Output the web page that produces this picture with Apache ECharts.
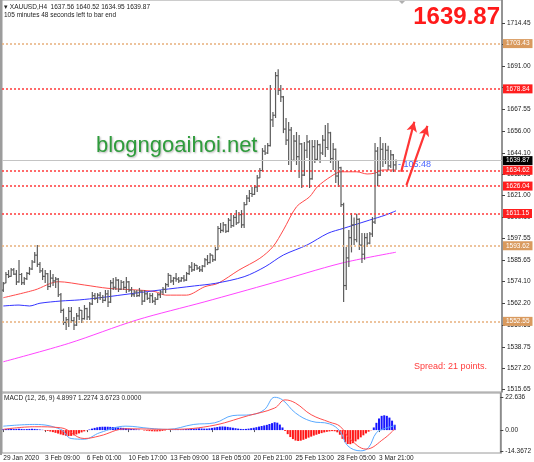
<!DOCTYPE html>
<html>
<head>
<meta charset="utf-8">
<title>XAUUSD H4</title>
<script src="https://cdn.jsdelivr.net/npm/echarts@6/dist/echarts.min.js"></script>
<style>
  html, body { margin: 0; padding: 0; background: #fff; }
  #chart { width: 534px; height: 462px; }
</style>
</head>
<body>
<div id="chart"></div>
<script>
// time slots (bars + empty right margin like MT4's chart shift)
const slotCount = 191;
const labelStep = 16;
const dateLabels = ['29 Jan 2020', '3 Feb 09:00', '6 Feb 01:00', '10 Feb 17:00', '13 Feb 09:00',
  '18 Feb 05:00', '20 Feb 21:00', '25 Feb 13:00', '28 Feb 05:00', '3 Mar 21:00'];

// H4 bars
const opens = [
  1569.5,1573.5,1578.0,1577.0,1580.5,1578.2,1574.0,1578.0,1573.5,1575.8,
  1578.6,1581.0,1584.8,1588.5,1583.5,1580.0,1577.0,1578.5,1571.5,1576.0,
  1574.5,1575.5,1567.0,1558.5,1552.0,1553.5,1558.0,1553.0,1550.5,1555.5,
  1558.5,1554.0,1559.5,1555.0,1562.0,1566.5,1565.0,1566.8,1565.5,1564.0,
  1567.5,1563.0,1573.5,1571.0,1575.0,1570.0,1573.8,1571.0,1574.0,1569.5,
  1567.0,1568.5,1566.5,1569.0,1563.5,1567.5,1565.0,1566.5,1563.5,1564.5,
  1567.0,1568.5,1570.0,1572.5,1577.5,1574.5,1576.0,1575.5,1574.5,1576.0,
  1575.0,1578.5,1582.0,1580.5,1583.0,1581.5,1580.5,1582.5,1586.0,1584.5,
  1588.5,1586.0,1591.5,1603.0,1602.0,1605.0,1601.5,1607.5,1604.5,1609.0,
  1606.0,1610.5,1605.0,1616.0,1619.5,1622.0,1621.5,1625.5,1630.5,1634.5,
  1645.0,1644.0,1648.0,1662.0,1664.5,1686.0,1678.0,1674.5,1657.0,1651.0,
  1656.5,1640.0,1650.5,1642.0,1649.0,1632.0,1645.5,1650.0,1630.0,1647.5,
  1640.5,1648.5,1644.0,1651.0,1647.0,1655.0,1641.0,1646.0,1631.5,1636.0,
  1616.0,1572.0,1587.0,1598.0,1605.0,1597.0,1608.0,1594.0,1589.0,1598.0,
  1595.0,1600.0,1606.5,1645.0,1632.0,1646.0,1640.0,1645.5,1637.0,1643.0,1637.56
];
const highs = [
  1573.9,1579.4,1580.4,1581.5,1581.5,1580.4,1585.9,1578.8,1576.6,1579.4,
  1582.1,1585.9,1590.2,1594.0,1584.8,1581.5,1580.4,1578.8,1580.4,1578.3,
  1576.6,1576.1,1567.9,1559.5,1554.9,1560.3,1560.3,1554.9,1557.1,1560.3,
  1558.7,1561.4,1560.0,1563.0,1568.5,1567.9,1567.9,1568.5,1566.9,1569.6,
  1569.6,1575.0,1576.1,1576.6,1575.5,1575.0,1574.5,1576.6,1574.5,1571.2,
  1569.6,1569.6,1570.7,1569.5,1569.6,1568.5,1567.9,1567.9,1565.8,1567.9,
  1569.6,1571.2,1573.4,1578.8,1577.7,1576.6,1578.8,1576.6,1576.6,1577.7,
  1579.4,1583.2,1584.8,1584.2,1583.2,1582.6,1583.2,1587.0,1588.6,1589.7,
  1588.6,1592.9,1604.3,1606.0,1606.5,1605.5,1608.7,1611.4,1610.3,1613.0,
  1611.9,1613.0,1617.4,1621.2,1623.9,1625.5,1626.6,1632.0,1635.8,1646.7,
  1648.3,1649.4,1680.9,1666.3,1688.0,1689.5,1680.9,1675.0,1663.0,1660.8,
  1658.1,1653.8,1655.4,1653.8,1649.5,1650.0,1653.8,1651.0,1651.0,1651.0,
  1651.0,1649.0,1653.8,1659.2,1660.3,1655.5,1649.4,1646.5,1640.2,1636.5,
  1617.0,1592.9,1602.2,1611.4,1609.0,1611.0,1608.5,1600.5,1600.5,1600.5,
  1601.1,1609.2,1649.4,1647.3,1652.7,1649.4,1649.4,1648.0,1645.6,1643.5,1640.52
];
const lows = [
  1568.5,1573.2,1576.1,1576.8,1577.7,1572.3,1573.5,1572.3,1572.3,1575.0,
  1577.7,1580.4,1584.2,1582.1,1578.8,1575.0,1573.4,1569.6,1571.0,1571.8,
  1570.7,1565.8,1557.1,1550.6,1547.8,1549.5,1551.6,1547.8,1550.0,1553.3,
  1551.6,1553.5,1553.3,1553.3,1561.5,1564.1,1562.5,1564.1,1562.5,1563.5,
  1560.3,1562.5,1569.6,1569.6,1568.5,1569.6,1569.6,1567.9,1568.5,1565.8,
  1565.8,1565.8,1566.0,1561.4,1563.0,1564.1,1562.5,1562.5,1561.4,1564.1,
  1565.2,1567.0,1567.9,1571.2,1573.4,1572.3,1574.0,1573.4,1574.0,1574.0,
  1574.5,1577.7,1579.4,1580.0,1580.4,1579.4,1579.4,1582.0,1583.2,1584.0,
  1584.8,1585.5,1591.3,1600.5,1601.0,1600.5,1601.0,1603.3,1604.0,1604.9,
  1606.0,1603.3,1603.3,1615.7,1617.4,1620.1,1621.2,1622.8,1630.4,1634.0,
  1642.9,1643.5,1647.5,1658.1,1663.0,1675.5,1671.7,1654.8,1648.3,1637.5,
  1633.7,1639.5,1637.5,1630.4,1625.0,1631.5,1641.3,1625.0,1629.5,1638.6,
  1640.2,1638.6,1642.9,1641.8,1645.6,1638.6,1634.8,1627.7,1625.5,1614.7,
  1563.0,1569.6,1582.1,1590.0,1594.0,1595.5,1591.3,1584.2,1586.0,1592.9,
  1594.5,1598.4,1605.5,1626.0,1631.5,1636.4,1638.0,1634.8,1635.8,1633.7,1634.95
];
const closes = [
  1573.0,1578.0,1577.0,1580.5,1578.2,1574.0,1578.0,1573.5,1575.8,1578.6,
  1581.0,1584.8,1588.5,1583.5,1580.0,1577.0,1578.5,1571.5,1576.0,1574.5,
  1575.5,1567.0,1558.5,1552.0,1553.5,1558.0,1553.0,1550.5,1555.5,1558.5,
  1554.0,1559.5,1555.0,1562.0,1566.5,1565.0,1566.8,1565.5,1564.0,1567.5,
  1563.0,1573.5,1571.0,1575.0,1570.0,1573.8,1571.0,1574.0,1569.5,1567.0,
  1568.5,1566.5,1569.0,1563.5,1567.5,1565.0,1566.5,1563.5,1564.5,1567.0,
  1568.5,1570.0,1572.5,1577.5,1574.5,1576.0,1575.5,1574.5,1576.0,1575.0,
  1578.5,1582.0,1580.5,1583.0,1581.5,1580.5,1582.5,1586.0,1584.5,1588.5,
  1586.0,1591.5,1603.0,1602.0,1605.0,1601.5,1607.5,1604.5,1609.0,1606.0,
  1610.5,1605.0,1616.0,1619.5,1622.0,1621.5,1625.5,1630.5,1634.5,1645.0,
  1644.0,1648.0,1662.0,1664.5,1686.0,1678.0,1674.5,1657.0,1651.0,1656.5,
  1640.0,1650.5,1642.0,1649.0,1632.0,1645.5,1650.0,1630.0,1647.5,1640.5,
  1648.5,1644.0,1651.0,1647.0,1655.0,1641.0,1646.0,1631.5,1636.0,1616.0,
  1572.0,1587.0,1598.0,1605.0,1597.0,1608.0,1594.0,1589.0,1598.0,1595.0,
  1600.0,1606.5,1645.0,1632.0,1646.0,1640.0,1645.5,1637.0,1643.0,1637.56,1639.87
];

// moving averages, [bar index, price] read at points along each curve
const maRed = [[0,1565.4],[12,1569.6],[21,1574.1],[31,1572.3],[40,1570.5],[51,1569.6],[58,1568.7],
  [62,1566.8],[70,1566.8],[77,1571.4],[82,1573.2],[90,1580.4],[98,1586.8],[103,1593.1],[107,1602.2],
  [112,1614.8],[117,1620.2],[120,1625.7],[125,1631.1],[129,1633.8],[135,1633.8],[139,1632.6],
  [142,1633.1],[145,1634.8],[150,1634.8]];
const maBlue = [[0,1560.9],[6,1561.4],[10,1560.9],[14,1562.4],[22,1563.6],[29,1564.2],[37,1565.4],
  [50,1567.8],[60,1569.6],[73,1571.8],[81,1573.2],[92,1576.8],[100,1582.2],[107,1588.6],[116,1594.0],
  [124,1600.4],[130,1603.1],[134,1604.9],[140,1607.6],[146,1610.3],[150,1612.6]];
const maMagenta = [[0,1530.6],[25,1540.6],[51,1553.3],[77,1563.2],[103,1573.5],[129,1584.1],[150,1590.1]];

// MACD (12,26,9) sub-window
const macdHist = [
  0.6,0.8,0.9,0.8,0.7,0.8,0.9,0.8,0.6,0.7,
  0.8,0.9,0.8,0.6,0.4,0.2,-0.3,-0.6,-1.0,-1.4,
  -1.9,-2.4,-3.0,-3.5,-3.9,-4.1,-4.0,-3.6,-3.0,-2.3,
  -1.6,-0.9,-0.2,0.4,1.0,1.5,1.9,2.2,2.3,2.3,
  2.3,2.2,2.1,2.0,1.8,1.6,1.5,1.3,1.1,0.9,
  0.7,0.5,0.3,0.0,-0.3,-0.5,-0.7,-0.8,-0.9,-0.9,
  -0.8,-0.6,-0.3,0.0,0.2,0.3,0.4,0.5,0.5,0.6,
  0.7,0.8,0.9,1.0,1.1,1.2,1.1,1.0,1.0,1.2,
  1.5,1.8,2.1,2.4,2.5,2.4,2.2,1.9,1.6,1.3,
  1.0,0.8,0.7,0.8,1.0,1.3,1.6,2.0,2.4,2.8,
  3.2,3.6,4.2,4.8,5.4,5.1,3.8,1.8,-0.6,-2.8,
  -4.8,-6.2,-7.2,-7.5,-7.3,-6.7,-6.0,-5.2,-4.5,-3.8,
  -3.2,-2.6,-2.1,-1.6,-1.2,-0.9,-0.7,-0.8,-1.5,-3.2,
  -6.0,-8.3,-9.6,-9.7,-9.0,-7.8,-6.4,-5.0,-3.6,-2.3,
  -1.1,-0.2,1.8,5.0,8.0,9.8,10.2,9.8,8.6,6.5,3.67
];
const macdMain = [[0,2.7],[12,3.9],[22,0.5],[26,-5.8],[31,-6.3],[37,-1.8],[47,2.7],[56,1.2],[63,0.5],
  [73,3.9],[81,5.0],[88,10.0],[95,10.6],[100,14.0],[104,22.6],[107,20.8],[112,11.8],[118,6.1],
  [125,4.3],[129,-0.7],[132,-10.8],[137,-14.3],[140,-12.0],[143,-1.8],[146,0.9],[150,3.0]];
const macdSignal = [[0,0.5],[12,2.3],[22,1.6],[31,-5.8],[37,-4.0],[47,0.9],[63,0.5],[79,2.7],
  [94,10.0],[104,15.2],[108,20.8],[112,18.6],[118,10.6],[125,5.5],[129,2.7],[133,-6.3],[139,-13.1],
  [146,-5.8],[150,0.8]];

// axis ticks
const priceTicks = [1714.45, 1702.90, 1691.00, 1679.45, 1667.55, 1656.00, 1644.10, 1632.55, 1621.00,
  1609.10, 1597.55, 1585.65, 1574.10, 1562.20, 1550.65, 1538.75, 1527.20, 1515.65];
const macdTicks = [22.636, 0, -14.3672];
const macdTickLabels = ['22.636', '0.00', '-14.3672'];

// horizontal levels and arrows drawn on the chart
const redLevels = [1678.84, 1634.62, 1626.04, 1611.15];
const tanLevels = [1703.43, 1593.62, 1552.55];
const lastPrice = 1639.87;
const arrows = [[[152, 1633.8], [157, 1661.0]], [[154, 1626.6], [162, 1658.7]]];

const FONT = 'Liberation Sans';
const axisText = { color: '#222', fontSize: 6.5, fontFamily: FONT };
const slots = Array.from({ length: slotCount }, (_, i) => String(i));
const hasDateLabel = (i) => i % labelStep === 0 && i / labelStep < dateLabels.length;

function renderBar(params, api) {
  const i = api.value(0);
  const o = api.coord([i, api.value(1)]);
  const h = api.coord([i, api.value(2)]);
  const l = api.coord([i, api.value(3)]);
  const c = api.coord([i, api.value(4)]);
  const x = o[0];
  const st = { stroke: '#5c5c5c', lineWidth: 1.2 };
  return {
    type: 'group',
    children: [
      { type: 'line', shape: { x1: x, y1: h[1], x2: x, y2: l[1] }, style: st },
      { type: 'line', shape: { x1: x - 1.4, y1: o[1], x2: x, y2: o[1] }, style: st },
      { type: 'line', shape: { x1: x, y1: c[1], x2: x + 1.4, y2: c[1] }, style: st }
    ]
  };
}

function levelMarks(values, lineColor, dash, width, boxColor) {
  return {
    silent: true, symbol: ['none', 'none'],
    lineStyle: { color: lineColor, type: dash, width: width, opacity: 1 },
    label: {
      show: true, position: 'end', distance: 1, color: '#fff', fontSize: 6.5, fontFamily: FONT,
      padding: [1, 3, 1, 3], backgroundColor: boxColor, formatter: (p) => p.value.toFixed(2)
    },
    emphasis: { disabled: true },
    data: values.map((v) => ({ yAxis: v }))
  };
}

const chart = echarts.init(document.getElementById('chart'));
chart.setOption({
  animation: false,
  backgroundColor: '#fff',
  grid: [
    { left: 2, right: 32, top: 0, bottom: 70, show: true, borderColor: '#9a9a9a', borderWidth: 1 },
    { left: 2, right: 32, top: 393, bottom: 8, show: true, borderColor: '#9a9a9a', borderWidth: 1 }
  ],
  xAxis: [
    { type: 'category', gridIndex: 0, data: slots, axisLine: { show: false },
      axisTick: { show: false }, axisLabel: { show: false } },
    { type: 'category', gridIndex: 1, data: slots, axisLine: { show: false },
      axisTick: { show: true, alignWithLabel: true, interval: hasDateLabel, length: 2, lineStyle: { color: '#555' } },
      axisLabel: Object.assign({ interval: hasDateLabel, align: 'left', margin: 2,
        formatter: (v, i) => dateLabels[i / labelStep] }, axisText) }
  ],
  yAxis: [
    { type: 'value', gridIndex: 0, position: 'right', min: 1514.18, max: 1727.11, splitLine: { show: false },
      axisLine: { show: true, lineStyle: { color: '#808080', width: 1.5 } },
      axisTick: { show: true, customValues: priceTicks, length: 3, lineStyle: { color: '#444' } },
      axisLabel: Object.assign({ customValues: priceTicks, margin: 5, formatter: (v) => v.toFixed(2) }, axisText) },
    { type: 'value', gridIndex: 1, position: 'right', min: -15.79, max: 25.55, splitLine: { show: false },
      axisLine: { show: true, lineStyle: { color: '#808080', width: 1.5 } },
      axisTick: { show: true, customValues: macdTicks, length: 3, lineStyle: { color: '#444' } },
      axisLabel: Object.assign({ customValues: macdTicks, margin: 5,
        formatter: (v) => macdTickLabels[macdTicks.indexOf(v)] }, axisText) }
  ],
  series: [
    {
      name: 'MA red', type: 'line', xAxisIndex: 0, yAxisIndex: 0, data: maRed, smooth: 0.3,
      showSymbol: false, silent: true, z: 2, lineStyle: { color: '#ff4a4a', width: 1 },
      markLine: levelMarks(redLevels, '#ff3a3a', [2, 2], 1.5, '#ff1e1e')
    },
    {
      name: 'MA blue', type: 'line', xAxisIndex: 0, yAxisIndex: 0, data: maBlue, smooth: 0.3,
      showSymbol: false, silent: true, z: 2, lineStyle: { color: '#3535ff', width: 1 },
      markLine: levelMarks(tanLevels, '#e8b07c', [2, 2], 1.5, '#d99a5e')
    },
    {
      name: 'MA magenta', type: 'line', xAxisIndex: 0, yAxisIndex: 0, data: maMagenta, smooth: 0.3,
      showSymbol: false, silent: true, z: 2, lineStyle: { color: '#ff45ff', width: 1 },
      markLine: levelMarks([lastPrice], '#c4c4c4', 'solid', 1, '#000')
    },
    {
      name: 'XAUUSD', type: 'custom', xAxisIndex: 0, yAxisIndex: 0, z: 3, silent: true,
      renderItem: renderBar, encode: { x: 0, y: [1, 2, 3, 4] },
      data: opens.map((o, i) => [i, o, highs[i], lows[i], closes[i]])
    },
    {
      name: 'Arrows', type: 'line', xAxisIndex: 0, yAxisIndex: 0, z: 4, silent: true, showSymbol: false,
      data: [[151, lastPrice]], lineStyle: { width: 0 },
      markLine: {
        silent: true, symbol: ['none', 'arrow'], symbolSize: [8, 10], label: { show: false },
        lineStyle: { color: '#ff3535', width: 2.2, type: 'solid' },
        emphasis: { disabled: true },
        data: arrows.map((a) => [{ coord: a[0] }, { coord: a[1] }])
      }
    },
    {
      name: 'OsMA', type: 'bar', xAxisIndex: 1, yAxisIndex: 1, barWidth: 2, silent: true,
      data: macdHist.map((v) => ({ value: v, itemStyle: { color: v >= 0 ? '#1616ff' : '#ff1616' } }))
    },
    {
      name: 'MACD', type: 'line', xAxisIndex: 1, yAxisIndex: 1, data: macdMain, smooth: 0.4,
      showSymbol: false, silent: true, z: 3, lineStyle: { color: '#5aaaff', width: 1 }
    },
    {
      name: 'Signal', type: 'line', xAxisIndex: 1, yAxisIndex: 1, data: macdSignal, smooth: 0.4,
      showSymbol: false, silent: true, z: 3, lineStyle: { color: '#ff4d4d', width: 1 }
    }
  ],
  graphic: [
    { type: 'rect', left: 0, top: 0, shape: { width: 2, height: 455 }, style: { fill: '#9c9c9c' }, silent: true },
    { type: 'text', x: 4, y: 7, silent: true,
      style: { text: '▾ XAUUSD,H4  1637.56 1640.52 1634.95 1639.87', fill: '#222',
        font: '6.5px "Liberation Sans"', textVerticalAlign: 'middle' } },
    { type: 'text', x: 4, y: 15.5, silent: true,
      style: { text: '105 minutes 48 seconds left to bar end', fill: '#222',
        font: '6.5px "Liberation Sans"', textVerticalAlign: 'middle' } },
    { type: 'text', x: 500, y: 17, silent: true,
      style: { text: '1639.87', fill: '#ff1a1a', font: 'bold 24px "Liberation Sans"',
        textAlign: 'right', textVerticalAlign: 'middle' } },
    { type: 'text', x: 96, y: 146, silent: true,
      style: { text: 'blogngoaihoi.net', fill: '#2f9c3c', font: '22px "Liberation Sans"',
        textVerticalAlign: 'middle', textShadowColor: 'rgba(0,0,0,0.3)', textShadowBlur: 2,
        textShadowOffsetX: 1, textShadowOffsetY: 1 } },
    { type: 'text', x: 398, y: 164.5, silent: true,
      style: { text: '- 105:48', fill: '#4a66ff', font: '9px "Liberation Sans"', textVerticalAlign: 'middle' } },
    { type: 'text', x: 414, y: 367, silent: true,
      style: { text: 'Spread: 21 points.', fill: '#ff3b3b', font: '9px "Liberation Sans"', textVerticalAlign: 'middle' } },
    { type: 'text', x: 4, y: 398.5, silent: true,
      style: { text: 'MACD (12, 26, 9) 4.8997 1.2274 3.6723 0.0000', fill: '#222',
        font: '6.5px "Liberation Sans"', textVerticalAlign: 'middle' } },
    { type: 'polygon', silent: true, shape: { points: [[399, 1], [405, 1], [402, 4]] }, style: { fill: '#b0b0b0' } }
  ]
});
</script>
</body>
</html>
